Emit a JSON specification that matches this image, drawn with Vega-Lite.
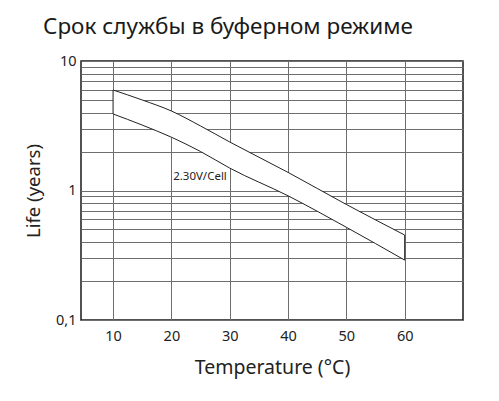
{
  "$schema": "https://vega.github.io/schema/vega-lite/v6.json",
  "width": 382,
  "height": 259,
  "autosize": {"type": "none"},
  "padding": {"left": 81, "top": 61, "right": 36, "bottom": 81},
  "background": "white",
  "config": {
    "view": {"stroke": "#1a1a1a", "strokeWidth": 1.5},
    "font": "Noto Sans"
  },
  "title": {
    "text": "Срок службы в буферном режиме",
    "anchor": "start",
    "frame": "group",
    "dx": -38,
    "offset": 15,
    "fontSize": 22.5,
    "fontWeight": "normal",
    "color": "#1a1a1a"
  },
  "layer": [
    {
      "data": {
        "values": [
          {"t": 10, "upper": 5.97, "lower": 3.9},
          {"t": 15, "upper": 5.0, "lower": 3.2},
          {"t": 20, "upper": 4.11, "lower": 2.58},
          {"t": 25, "upper": 3.15, "lower": 2.0},
          {"t": 30, "upper": 2.37, "lower": 1.49},
          {"t": 40, "upper": 1.38, "lower": 0.91},
          {"t": 50, "upper": 0.78, "lower": 0.52},
          {"t": 60, "upper": 0.453, "lower": 0.29}
        ]
      },
      "mark": {"type": "area", "fill": "white", "stroke": "#222222", "strokeWidth": 1, "interpolate": "monotone"},
      "encoding": {
        "x": {
          "field": "t",
          "type": "quantitative",
          "scale": {"domain": [4.5, 70], "nice": false, "zero": false},
          "axis": {
            "values": [10, 20, 30, 40, 50, 60],
            "grid": true,
            "gridColor": "#6e6e6e",
            "gridWidth": 1,
            "ticks": false,
            "domain": false,
            "labelFontSize": 14.5,
            "labelColor": "#222222",
            "labelPadding": 9,
            "title": "Temperature (°C)",
            "titleFontSize": 19.5,
            "titleFontWeight": "normal",
            "titleColor": "#222222",
            "titlePadding": 16
          }
        },
        "y": {
          "field": "upper",
          "type": "quantitative",
          "scale": {"type": "log", "domain": [0.1, 10], "nice": false},
          "axis": {
            "values": [0.1, 0.2, 0.3, 0.4, 0.5, 0.6, 0.7, 0.8, 0.9, 1, 2, 3, 4, 5, 6, 7, 8, 9, 10],
            "labelExpr": "datum.value == 10 ? '10' : datum.value == 1 ? '1' : datum.value == 0.1 ? '0,1' : ''",
            "labelOverlap": false,
            "labelBound": false,
            "labelFlush": false,
            "grid": true,
            "gridColor": "#6e6e6e",
            "gridWidth": 1,
            "ticks": false,
            "domain": false,
            "labelFontSize": 14.5,
            "labelColor": "#222222",
            "labelPadding": 5,
            "title": "Life (years)",
            "titleFontSize": 18.5,
            "titleFontWeight": "normal",
            "titleColor": "#222222",
            "titlePadding": 12
          }
        },
        "y2": {"field": "lower"}
      }
    },
    {
      "data": {"values": [{"t": 20.3, "v": 1.2, "label": "2.30V/Cell"}]},
      "mark": {"type": "text", "align": "left", "baseline": "alphabetic", "fontSize": 11.5, "color": "#222222"},
      "encoding": {
        "x": {"field": "t", "type": "quantitative"},
        "y": {"field": "v", "type": "quantitative"},
        "text": {"field": "label"}
      }
    }
  ]
}
